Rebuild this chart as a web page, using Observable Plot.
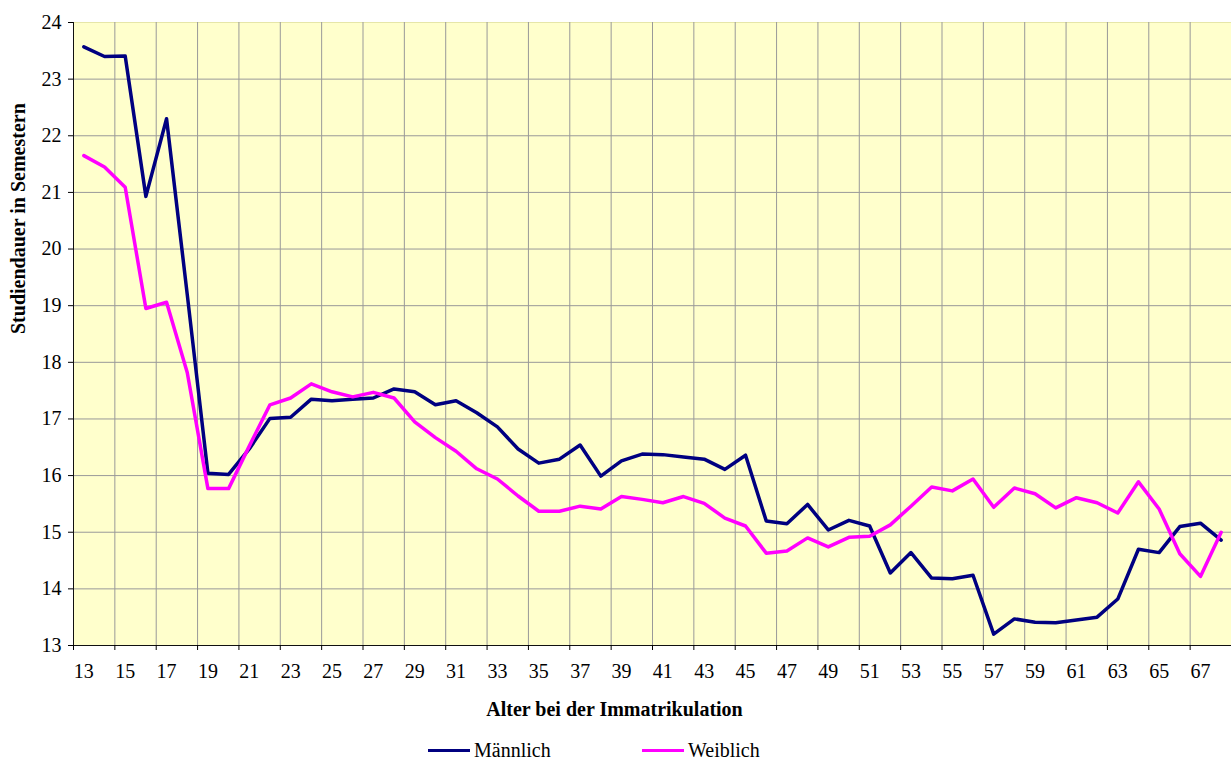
<!DOCTYPE html>
<html>
<head>
<meta charset="utf-8">
<script src="https://cdn.jsdelivr.net/npm/d3@7"></script>
<script src="https://cdn.jsdelivr.net/npm/@observablehq/plot@0.6"></script>
<style>
  html, body { margin: 0; padding: 0; background: #fff; }
  #wrap { position: relative; width: 1231px; height: 760px; font-family: "Liberation Serif", "Times New Roman", serif; }
  #chart { position: absolute; left: 0; top: 0; }
  #chart svg text { font-family: "Liberation Serif", "Times New Roman", serif; }
  .lg-line { position: absolute; height: 3px; top: 749px; width: 42px; }
  .lg-text { position: absolute; top: 739px; font-size: 20px; line-height: 23px; color: #000; white-space: nowrap; font-family: "Liberation Serif", "Times New Roman", serif; }
</style>
</head>
<body>
<div id="wrap">
  <div id="chart"></div>
</div>
<script>
// ---- data ----
const ages = [13,14,15,16,17,18,19,20,21,22,23,24,25,26,27,28,29,30,31,32,33,34,35,36,37,38,39,40,
              41,42,43,44,45,46,47,48,49,50,51,52,53,54,55,56,57,58,59,60,61,62,63,64,65,66,67,68];
const male = [23.57,23.40,23.41,20.93,22.30,19.20,16.04,16.02,16.47,17.01,17.03,17.35,17.32,17.35,
              17.37,17.53,17.48,17.25,17.32,17.11,16.86,16.47,16.22,16.29,16.54,15.99,16.26,16.38,
              16.37,16.33,16.29,16.11,16.36,15.20,15.15,15.49,15.04,15.21,15.11,14.28,14.64,14.19,
              14.18,14.24,13.20,13.47,13.41,13.40,13.45,13.50,13.82,14.70,14.64,15.10,15.16,14.86];
const female = [21.65,21.45,21.09,18.95,19.06,17.82,15.77,15.77,16.52,17.25,17.37,17.62,17.48,17.39,
                17.47,17.37,16.95,16.67,16.43,16.12,15.94,15.64,15.37,15.37,15.46,15.41,15.63,15.58,
                15.52,15.63,15.51,15.25,15.11,14.63,14.67,14.90,14.74,14.91,14.93,15.13,15.46,15.80,
                15.73,15.94,15.44,15.78,15.68,15.43,15.61,15.52,15.34,15.89,15.41,14.62,14.22,15.00];
const seriesNames = ["Männlich", "Weiblich"];
const seriesColors = ["#000080", "#FF00FF"];
const yTicks = [13,14,15,16,17,18,19,20,21,22,23,24];
const xLabels = [13,15,17,19,21,23,25,27,29,31,33,35,37,39,41,43,45,47,49,51,53,55,57,59,61,63,65,67];
const xTitle = "Alter bei der Immatrikulation";
const yTitle = "Studiendauer in Semestern";

// ---- derived table ----
const data = ages.flatMap((a, i) => [
  {age: a, value: male[i], sex: seriesNames[0]},
  {age: a, value: female[i], sex: seriesNames[1]}
]);
const xDomain = [ages[0] - 0.5, ages[ages.length - 1] + 0.5];
const xBounds = xLabels.map(d => d - 0.5);   // category boundaries every two ages
const gridBounds = xBounds.slice(1);
const serif = "'Liberation Serif', 'Times New Roman', serif";

const chart = Plot.plot({
  width: 1231,
  height: 730,
  marginLeft: 73,
  marginRight: 0,
  marginTop: 22,
  marginBottom: 85,
  style: {fontFamily: serif, fontSize: "20px", color: "#000", background: "transparent"},
  x: {domain: xDomain},
  y: {domain: [yTicks[0], yTicks[yTicks.length - 1]]},
  color: {domain: seriesNames, range: seriesColors},
  marks: [
    Plot.frame({fill: "#FFFFCC", stroke: null}),
    Plot.gridY(yTicks.slice(1, -1), {stroke: "#999", strokeOpacity: 1}),
    Plot.gridY(yTicks.slice(-1), {stroke: "#E6E6A8", strokeOpacity: 1}),
    Plot.gridX(gridBounds, {stroke: "#999", strokeOpacity: 1}),
    Plot.line(data, {x: "age", y: "value", z: "sex", stroke: "sex", strokeWidth: 3.5}),
    Plot.ruleX([xDomain[0]], {stroke: "#111"}),
    Plot.ruleY([yTicks[0]], {stroke: "#111"}),
    Plot.axisY(yTicks, {tickSize: 5, tickPadding: 7, label: null, fontSize: 20, fontFamily: serif, tickFormat: d => String(d)}),
    Plot.axisX(xBounds, {tickSize: 5, tickFormat: () => "", label: null}),
    Plot.axisX(xLabels, {tickSize: 0, tickPadding: 18, label: null, fontSize: 20, fontFamily: serif, tickFormat: d => String(d)}),
    Plot.text([yTitle], {frameAnchor: "left", dx: -55, rotate: -90, fontWeight: "bold", fontSize: 20, fontFamily: serif}),
    Plot.text([xTitle], {frameAnchor: "bottom", dx: -38, dy: 70, fontWeight: "bold", fontSize: 20, fontFamily: serif})
  ]
});
document.getElementById("chart").appendChild(chart);

// ---- legend (HTML, below the SVG) ----
const wrap = document.getElementById("wrap");
const legendX = [428, 642];
seriesNames.forEach((name, i) => {
  const ln = document.createElement("div");
  ln.className = "lg-line";
  ln.style.left = legendX[i] + "px";
  ln.style.background = seriesColors[i];
  wrap.appendChild(ln);
  const tx = document.createElement("div");
  tx.className = "lg-text";
  tx.style.left = (legendX[i] + 46) + "px";
  tx.textContent = name;
  wrap.appendChild(tx);
});
</script>
</body>
</html>
